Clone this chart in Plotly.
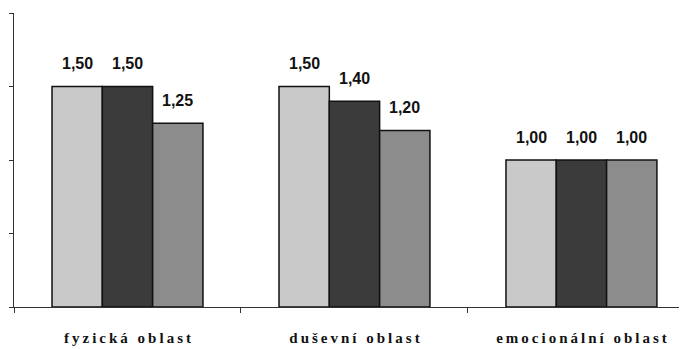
import plotly.graph_objects as go

categories = ["fyzická oblast", "duševní oblast", "emocionální oblast"]
series_a = [1.50, 1.50, 1.00]
series_b = [1.50, 1.40, 1.00]
series_c = [1.25, 1.20, 1.00]
series_names = ["A", "B", "C"]
colors = ["#c9c9c9", "#3b3b3b", "#8c8c8c"]

def spaced(s):
    return "\u2009".join(list(s))

tick_text = [spaced(c) for c in categories]

fig = go.Figure()
all_series = [series_a, series_b, series_c]
for name, vals, col in zip(series_names, all_series, colors):
    fig.add_trace(go.Bar(
        x=categories, y=vals, name=name,
        marker=dict(color=col, line=dict(color="#111111", width=1.5)),
    ))

annotations = []
for i, vals in enumerate(all_series):
    for cat, v in zip(categories, vals):
        annotations.append(dict(
            x=cat, y=v, xref="x", yref="y",
            text=f"{v:.2f}".replace(".", ","),
            showarrow=False, xshift=(i - 1) * 50.3, yshift=23,
            font=dict(family="Liberation Sans, Arial", size=16, color="#111111", weight="bold"),
        ))

fig.update_layout(
    width=679, height=341,
    margin=dict(l=6, r=0, t=5, b=42),
    paper_bgcolor="white", plot_bgcolor="white",
    barmode="group", bargap=0.335, bargroupgap=0,
    showlegend=False,
    annotations=annotations,
    xaxis=dict(
        type="category", range=[-0.5, 2.465],
        tickmode="array", tickvals=categories, ticktext=tick_text,
        showline=True, linecolor="#333333", linewidth=1.2,
        ticks="outside", tickson="boundaries", ticklen=5, tickcolor="#333333",
        ticklabelstandoff=17,
        showgrid=False, zeroline=False,
        tickfont=dict(family="Liberation Serif, Times New Roman", size=15, color="#111111", weight="bold"),
    ),
    yaxis=dict(
        range=[0, 2.0], tickvals=[0, 0.5, 1.0, 1.5, 2.0], showticklabels=False,
        showline=True, linecolor="#333333", linewidth=1.2,
        ticks="outside", ticklen=4, tickcolor="#333333",
        showgrid=False, zeroline=False,
    ),
)

fig.write_html("out.html")
